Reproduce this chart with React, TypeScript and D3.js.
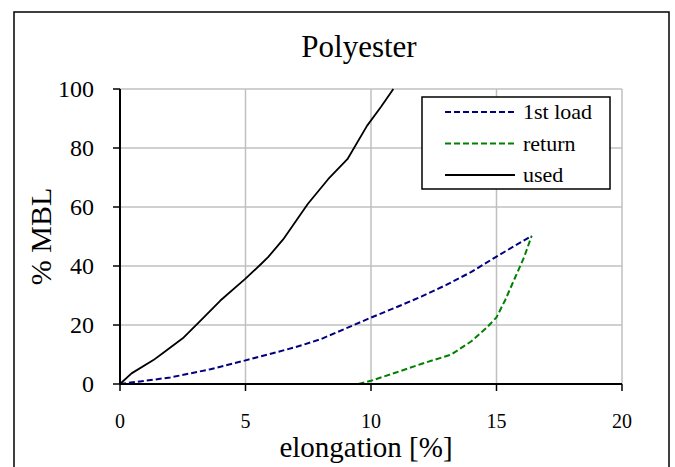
import React from "react";
import { scaleLinear, line } from "d3";

// series: [elongation %, % MBL]
const firstLoad: [number, number][] = [
  [0, 0], [2, 2.2], [3.6, 5], [5, 8], [7, 12.5], [8, 15.2], [10, 22.5],
  [11.2, 26.7], [12, 29.6], [13, 33.6], [14, 38], [15, 43.2], [16.4, 50.2]
];
const returnCurve: [number, number][] = [
  [9.5, 0], [10, 1.1], [11, 3.9], [12, 6.8], [13.2, 10], [14, 14.5],
  [14.6, 19], [15, 22.6], [15.35, 28.5], [15.7, 35.3], [16.1, 43], [16.4, 50.2]
];
const used: [number, number][] = [
  [0, 0], [0.46, 3.6], [1.33, 8.1], [1.7, 10.4], [2.5, 15.5], [3.15, 21],
  [4, 28.3], [5, 35.7], [5.6, 40.5], [5.9, 43], [6.5, 49], [7.48, 61],
  [8.3, 69.5], [9.06, 76.2], [9.84, 87.5], [10.4, 94], [10.89, 100]
];

const xTicks = [0, 5, 10, 15, 20];
const yTicks = [0, 20, 40, 60, 80, 100];

const series = [
  { name: "1st load", data: firstLoad, color: "#000080", dash: "6,3", width: 2 },
  { name: "return", data: returnCurve, color: "#008000", dash: "6,3", width: 2 },
  { name: "used", data: used, color: "#000000", dash: undefined, width: 1.8 }
];

const W = 675;
const H = 467;
const LEFT = 120;
const RIGHT = 622;
const TOP = 89;
const BOTTOM = 384;

export default function App() {
  const x = scaleLinear().domain([0, 20]).range([LEFT, RIGHT]);
  const y = scaleLinear().domain([0, 100]).range([BOTTOM, TOP]);

  const lineFn = line<[number, number]>()
    .x(d => x(d[0]))
    .y(d => y(d[1]));

  const font = "'Liberation Serif', 'Times New Roman', serif";

  return (
    <svg
      width={W}
      height={H}
      style={{ position: "absolute", left: 0, top: 0 }}
      fontFamily={font}
    >
      <rect x={0} y={0} width={W} height={H} fill="#fff" />
      <rect x={14} y={12} width={655} height={480} fill="none" stroke="#000" strokeWidth={1.5} />

      <text x={359} y={57} textAnchor="middle" fontSize={31}>
        Polyester
      </text>

      {/* grid */}
      {xTicks.slice(1).map(v => (
        <line key={"gx" + v} x1={x(v)} x2={x(v)} y1={y(100)} y2={y(0)} stroke="#c0c0c0" strokeWidth={1.5} />
      ))}
      {yTicks.slice(1).map(v => (
        <line key={"gy" + v} x1={x(0)} x2={x(20)} y1={y(v)} y2={y(v)} stroke="#c0c0c0" strokeWidth={1.5} />
      ))}

      {/* series */}
      {series.map(s => (
        <path
          key={s.name}
          d={lineFn(s.data)!}
          fill="none"
          stroke={s.color}
          strokeWidth={s.width}
          strokeDasharray={s.dash}
          strokeLinejoin="round"
        />
      ))}

      {/* axes */}
      <line x1={x(0)} x2={x(20)} y1={y(0)} y2={y(0)} stroke="#000" strokeWidth={2} />
      <line x1={x(0)} x2={x(0)} y1={y(0)} y2={y(100)} stroke="#000" strokeWidth={2} />
      {xTicks.map(v => (
        <g key={"xt" + v} transform={`translate(${x(v)},${y(0)})`}>
          <line y2={7} stroke="#000" strokeWidth={1.5} />
          <text y={44} textAnchor="middle" fontSize={20}>
            {v}
          </text>
        </g>
      ))}
      {yTicks.map(v => (
        <g key={"yt" + v} transform={`translate(${x(0)},${y(v)})`}>
          <line x1={-7} stroke="#000" strokeWidth={1.5} />
          <text x={-26} y={8} textAnchor="end" fontSize={24}>
            {v}
          </text>
        </g>
      ))}

      <text x={366} y={457} textAnchor="middle" fontSize={29}>
        elongation [%]
      </text>
      <text
        transform={`translate(51,${(TOP + BOTTOM) / 2}) rotate(-90)`}
        textAnchor="middle"
        fontSize={30}
      >
        % MBL
      </text>

      {/* legend */}
      <rect x={422} y={97} width={188} height={92} fill="#fff" stroke="#000" strokeWidth={1.5} />
      {series.map((s, i) => {
        const ly = 112 + i * 31.5;
        return (
          <g key={"lg" + s.name}>
            <line
              x1={445}
              x2={515}
              y1={ly}
              y2={ly}
              stroke={s.color}
              strokeWidth={s.width}
              strokeDasharray={s.dash}
            />
            <text x={523} y={ly + 7} fontSize={22}>
              {s.name}
            </text>
          </g>
        );
      })}
    </svg>
  );
}
